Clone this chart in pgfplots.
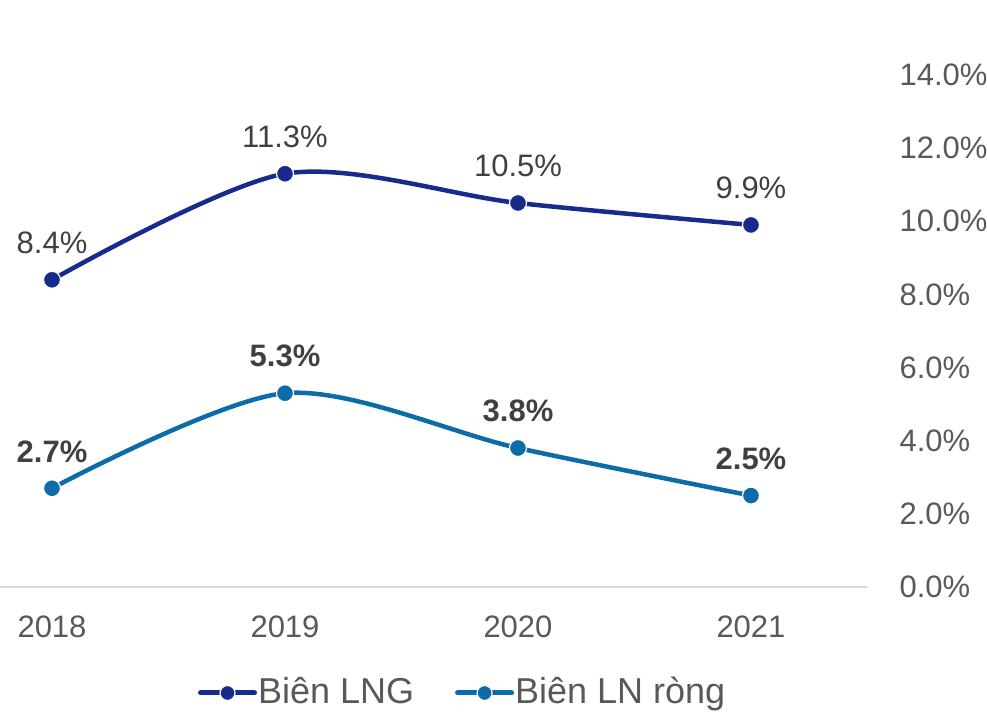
\documentclass[border=0pt]{standalone}
\usepackage{pgfplots}
\pgfplotsset{compat=1.18}
\usepackage{fontspec}
\setmainfont{Liberation Sans}
\definecolor{navy}{HTML}{172B8C}
\definecolor{teal}{HTML}{0D6BA8}
\definecolor{txt}{HTML}{404040}
\definecolor{tick}{HTML}{595959}
\definecolor{axl}{HTML}{D9D9D9}
\begin{document}
\fontsize{31}{37}\selectfont
\begin{tikzpicture}
\begin{axis}[
  scale only axis, width=867pt, height=512pt,
  xmin=-0.2232, xmax=3.498, ymin=0, ymax=14,
  axis y line*=right, axis x line*=bottom,
  y axis line style={draw=none},
  x axis line style={draw=axl, line width=1.2pt},
  xtick={0,1,2,3}, xticklabels={2018,2019,2020,2021},
  major tick length=0pt,
  ytick={0,2,4,6,8,10,12,14},
  yticklabel={\pgfmathprintnumber[fixed,fixed zerofill,precision=1]{\tick}\%},
  /pgf/number format/assume math mode=true,
  tick label style={font=\fontsize{31}{37}\selectfont, text=tick},
  yticklabel style={anchor=west, xshift=22pt},
  xticklabel style={yshift=-18pt},
  clip=false,
  legend style={at={(0.533,-0.207)}, anchor=center, draw=none, fill=none,
    legend columns=2, font=\fontsize{36}{42}\selectfont, text=tick,
    /tikz/every even column/.append style={column sep=40pt},
    nodes={inner xsep=1pt},
    inner sep=0pt},
  legend cell align=left,
  legend image code/.code={
    \draw[#1, line width=5pt, line cap=round, mark repeat=2, mark phase=2, mark size=7.5pt] plot coordinates {(3pt,0pt)(30pt,0pt)(57pt,0pt)};},
  nodes near coords,
  nodes near coords style={text=txt, font=\fontsize{31}{37}\selectfont, anchor=south, yshift=15pt},
]
\addplot[navy, line width=4.5pt, smooth, tension=0.5, mark=*, mark size=8.5pt,
  mark options={fill=navy, draw=white, line width=1.2pt},
  point meta=explicit symbolic]
  coordinates {(0,8.4)[8.4\%] (1,11.3)[11.3\%] (2,10.5)[10.5\%] (3,9.9)[9.9\%]};
\addlegendentry{Biên LNG}
\addplot[teal, line width=4.5pt, smooth, tension=0.5, mark=*, mark size=8.5pt,
  mark options={fill=teal, draw=white, line width=1.2pt},
  point meta=explicit symbolic,
  nodes near coords style={font=\fontsize{31}{37}\selectfont\bfseries}]
  coordinates {(0,2.7)[2.7\%] (1,5.3)[5.3\%] (2,3.8)[3.8\%] (3,2.5)[2.5\%]};
\addlegendentry{Biên LN ròng}
\end{axis}
\pgfresetboundingbox
\path (current axis.south west) ++(0pt,-126pt) rectangle ++(987pt,713pt);
\end{tikzpicture}
\end{document}
